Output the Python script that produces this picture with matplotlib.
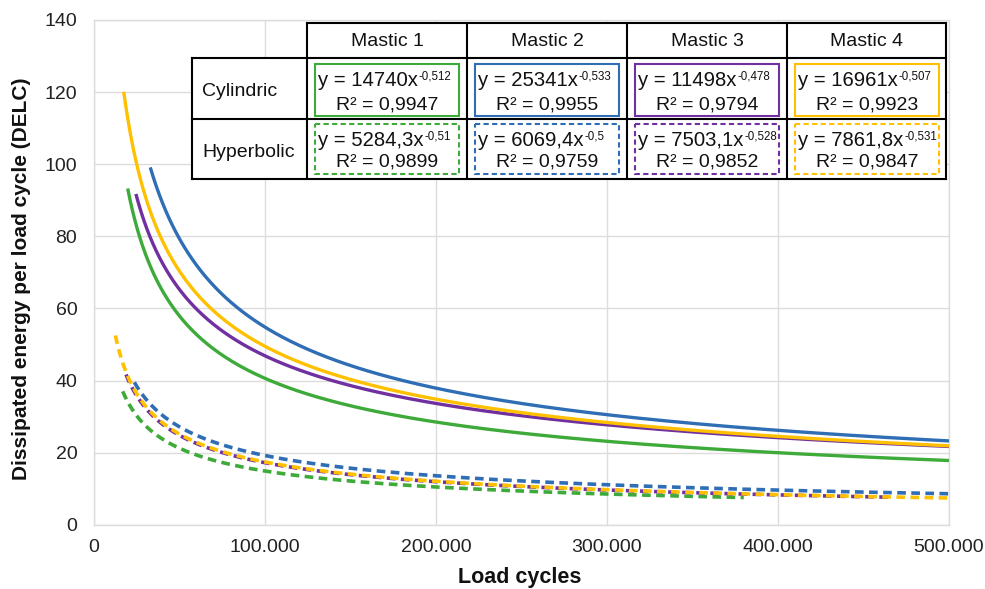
import numpy as np
import matplotlib
matplotlib.use('Agg')
import matplotlib.pyplot as plt
from matplotlib.patches import Rectangle
from matplotlib.ticker import FuncFormatter

plt.rcParams['font.family'] = ['Liberation Sans', 'DejaVu Sans']

# ---------------- data ----------------
mastics = ['Mastic 1', 'Mastic 2', 'Mastic 3', 'Mastic 4']
methods = ['Cylindric', 'Hyperbolic']
colors = ['#3DAA3A', '#2F6EB5', '#7030A0', '#FFC000']

# power-law trendlines y = a * x^b, as printed in the chart
cyl_a = [14740, 25341, 11498, 16961]
cyl_b = [-0.512, -0.533, -0.478, -0.507]
cyl_x_start = [19700, 32900, 24500, 17400]
cyl_x_end = [500000, 500000, 500000, 500000]

hyp_a = [5284.3, 6069.4, 7503.1, 7861.8]
hyp_b = [-0.51, -0.5, -0.528, -0.531]
hyp_x_start = [16800, 23600, 18700, 12500]
hyp_x_end = [380000, 500000, 465000, 500000]

cyl_eq = ['y = 14740x', 'y = 25341x', 'y = 11498x', 'y = 16961x']
cyl_exp = ['-0,512', '-0,533', '-0,478', '-0,507']
cyl_r2 = ['R² = 0,9947', 'R² = 0,9955', 'R² = 0,9794', 'R² = 0,9923']
hyp_eq = ['y = 5284,3x', 'y = 6069,4x', 'y = 7503,1x', 'y = 7861,8x']
hyp_exp = ['-0,51', '-0,5', '-0,528', '-0,531']
hyp_r2 = ['R² = 0,9899', 'R² = 0,9759', 'R² = 0,9852', 'R² = 0,9847']

x_ticks = [0, 100000, 200000, 300000, 400000, 500000]
y_ticks = [0, 20, 40, 60, 80, 100, 120, 140]

# ---------------- figure ----------------
W, H = 985, 589
fig = plt.figure(figsize=(W / 100, H / 100), dpi=100)
ax = fig.add_axes([94 / W, 1 - 524.7 / H, (949 - 94) / W, (524.7 - 20) / H])

for i in range(4):
    x = np.geomspace(hyp_x_start[i], hyp_x_end[i], 400)
    ax.plot(x, hyp_a[i] * x ** hyp_b[i], color=colors[i], lw=2.6,
            dashes=(2.4, 1.5), dash_capstyle='butt', zorder=3 + i)
for i in range(4):
    x = np.geomspace(cyl_x_start[i], cyl_x_end[i], 400)
    ax.plot(x, cyl_a[i] * x ** cyl_b[i], color=colors[i], lw=2.4,
            solid_capstyle='butt', zorder=10 + i)

ax.set_xlim(0, 500000)
ax.set_ylim(0, 140)
ax.set_xticks(x_ticks)
ax.set_yticks(y_ticks)
ax.xaxis.set_major_formatter(FuncFormatter(lambda v, p: f"{int(round(v)):,}".replace(',', '.')))
ax.grid(True, color='#DCDCDC', lw=1)
ax.set_axisbelow(True)
for s in ax.spines.values():
    s.set_color('#DCDCDC')
    s.set_linewidth(1)
ax.tick_params(axis='both', length=0, labelsize=14, colors='#222222')
ax.tick_params(axis='x', pad=10)
ax.tick_params(axis='y', pad=12)

fig.text(22 / W, 1 - 279 / H, 'Dissipated energy per load cycle (DELC)', rotation=90,
         ha='center', va='center', fontsize=15, fontweight='bold', color='#111111')
fig.text(520 / W, 1 - 577 / H, 'Load cycles', ha='center', va='center',
         fontsize=15.5, fontweight='bold', color='#111111')

# ---------------- table overlay (pixel coordinates) ----------------
ov = fig.add_axes([0, 0, 1, 1], zorder=20)
ov.set_xlim(0, W)
ov.set_ylim(H, 0)
ov.axis('off')
ov.patch.set_alpha(0)

col_x = [192, 307, 467, 627, 787, 946]
row_y = [22.5, 57.5, 119, 179]

# white cell backgrounds
ov.add_patch(Rectangle((col_x[1], row_y[0]), col_x[5] - col_x[1], row_y[1] - row_y[0],
                       facecolor='white', edgecolor='none'))
ov.add_patch(Rectangle((col_x[0], row_y[1]), col_x[5] - col_x[0], row_y[3] - row_y[1],
                       facecolor='white', edgecolor='none'))

lc = dict(color='black', lw=1.5, solid_capstyle='projecting')
ov.plot([col_x[1], col_x[5]], [row_y[0], row_y[0]], **lc)
for yy in row_y[1:]:
    ov.plot([col_x[0], col_x[5]], [yy, yy], **lc)
ov.plot([col_x[0], col_x[0]], [row_y[1], row_y[3]], **lc)
for xx in col_x[1:]:
    ov.plot([xx, xx], [row_y[0], row_y[3]], **lc)

fig.canvas.draw()
renderer = fig.canvas.get_renderer()

tfs = 14
for j, name in enumerate(mastics):
    cx = (col_x[j + 1] + col_x[j + 2]) / 2
    ov.text(cx, 46, name, ha='center', va='baseline', fontsize=tfs, color='#111111')

ov.text(202, 96, methods[0], ha='left', va='baseline', fontsize=tfs, color='#111111')
ov.text(202, 156.7, methods[1], ha='left', va='baseline', fontsize=tfs, color='#111111')

rows = [
    (cyl_eq, cyl_exp, cyl_r2, '-', 64.3, 115.7, 85.7, 109.0),
    (hyp_eq, hyp_exp, hyp_r2, (0, (2.5, 1.6)), 124.3, 174.3, 145.7, 166.7),
]
for eqs, exps, r2s, ls, by0, by1, b1, b2 in rows:
    for j in range(4):
        x0 = col_x[j + 1]
        ov.add_patch(Rectangle((x0 + 7.5, by0), 160 - 15.5, by1 - by0, facecolor='none',
                               edgecolor=colors[j], lw=1.5, linestyle=ls))
        t = ov.text(x0 + 11.5, b1, eqs[j], ha='left', va='baseline', fontsize=14.6,
                    color='#111111')
        bb = t.get_window_extent(renderer)
        ov.text(bb.x1 + 0.5, b1 - 6, exps[j], ha='left', va='baseline', fontsize=8.3,
                color='#111111')
        ov.text(x0 + 80, b2, r2s[j], ha='center', va='baseline', fontsize=tfs,
                color='#111111')

fig.savefig('out.png', dpi=100)
